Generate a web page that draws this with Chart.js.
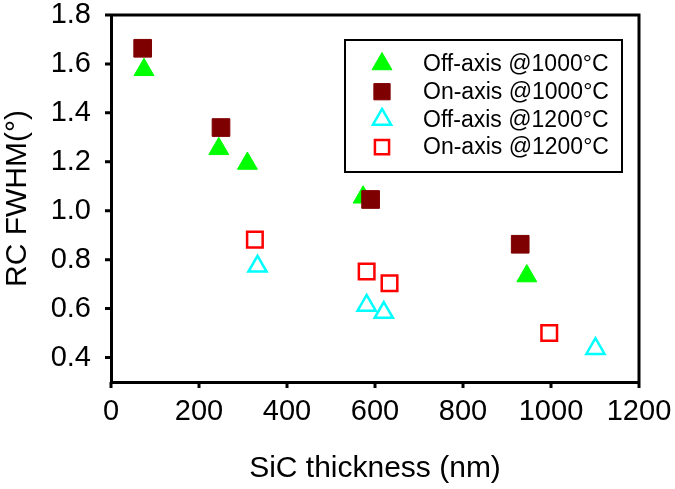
<!DOCTYPE html>
<html>
<head>
<meta charset="utf-8">
<script src="https://cdn.jsdelivr.net/npm/chart.js@4.4.0/dist/chart.umd.min.js"></script>
<style>
  html, body { margin: 0; padding: 0; background: #fff; }
</style>
</head>
<body>
<canvas id="chart" width="675" height="489"></canvas>
<script>
// values
const offAxis1000X = [75, 245, 310, 573, 945];
const offAxis1000Y = [1.576, 1.253, 1.193, 1.055, 0.733];
const onAxis1000X = [72, 250, 590, 930];
const onAxis1000Y = [1.664, 1.340, 1.046, 0.863];
const offAxis1200X = [333, 581, 620, 1101];
const offAxis1200Y = [0.773, 0.613, 0.584, 0.436];
const onAxis1200X = [327, 581, 633, 996];
const onAxis1200Y = [0.882, 0.752, 0.704, 0.500];

const xTicks = [0, 200, 400, 600, 800, 1000, 1200];
const yTicks = [0.4, 0.6, 0.8, 1.0, 1.2, 1.4, 1.6, 1.8];

const FONT = "'Liberation Sans', Arial, sans-serif";

function pts(xs, ys) {
  return xs.map((x, i) => ({ x: x, y: ys[i] }));
}

const datasets = [
  {
    label: "Off-axis @1000°C",
    data: pts(offAxis1000X, offAxis1000Y),
    pointStyle: "triangle",
    pointRadius: 11.5,
    backgroundColor: "#00ff00",
    borderColor: "#00ff00",
    borderWidth: 1,
    order: 2,
  },
  {
    label: "On-axis @1000°C",
    data: pts(onAxis1000X, onAxis1000Y),
    pointStyle: "rect",
    pointRadius: 12.5,
    backgroundColor: "#7f0000",
    borderColor: "#7f0000",
    borderWidth: 1,
    order: 1,
  },
  {
    label: "Off-axis @1200°C",
    data: pts(offAxis1200X, offAxis1200Y),
    pointStyle: "triangle",
    pointRadius: 10.5,
    backgroundColor: "rgba(255,255,255,0)",
    borderColor: "#00ffff",
    borderWidth: 2.5,
    order: 4,
  },
  {
    label: "On-axis @1200°C",
    data: pts(onAxis1200X, onAxis1200Y),
    pointStyle: "rect",
    pointRadius: 11,
    backgroundColor: "rgba(255,255,255,0)",
    borderColor: "#ff0000",
    borderWidth: 2.5,
    order: 3,
  },
];

// frame, outside tick marks and the boxed legend inside the plot
const boxPlugin = {
  id: "boxLegend",
  afterDraw(chart) {
    const ctx = chart.ctx;
    const a = chart.chartArea;
    const xs = chart.scales.x, ys = chart.scales.y;
    ctx.save();
    ctx.strokeStyle = "#000";
    ctx.lineWidth = 3;
    ctx.beginPath();
    ctx.moveTo(a.left, a.top);
    ctx.lineTo(a.right, a.top);
    ctx.lineTo(a.right, a.bottom);
    xTicks.forEach((v) => {
      const px = xs.getPixelForValue(v);
      ctx.moveTo(px, a.bottom);
      ctx.lineTo(px, a.bottom + 6);
    });
    yTicks.forEach((v) => {
      const py = ys.getPixelForValue(v);
      ctx.moveTo(a.left, py);
      ctx.lineTo(a.left - 6, py);
    });
    ctx.stroke();

    const bx = a.left + 234, by = a.top + 25, bw = 277, bh = 132;
    ctx.lineWidth = 2;
    ctx.fillStyle = "#fff";
    ctx.fillRect(bx, by, bw, bh);
    ctx.strokeRect(bx, by, bw, bh);

    ctx.font = "23px " + FONT;
    ctx.textBaseline = "middle";
    ctx.textAlign = "left";
    chart.data.datasets.forEach((ds, i) => {
      const y = by + 24 + i * 27.7;
      const mx = bx + 37;
      ctx.fillStyle = ds.backgroundColor;
      ctx.strokeStyle = ds.borderColor;
      ctx.lineWidth = ds.borderWidth;
      Chart.helpers.drawPoint(ctx, {
        pointStyle: ds.pointStyle,
        radius: ds.pointStyle === "rect" ? ds.pointRadius - 1 : ds.pointRadius,
        rotation: 0,
        borderWidth: ds.borderWidth,
      }, mx, y);
      ctx.fillStyle = "#000";
      ctx.fillText(ds.label, bx + 78, y + 1);
    });
    ctx.restore();
  },
};

new Chart(document.getElementById("chart"), {
  type: "scatter",
  data: { datasets: datasets },
  options: {
    responsive: false,
    devicePixelRatio: 1,
    animation: false,
    layout: { padding: { top: 15, right: 36, left: 0, bottom: 0 }, autoPadding: false },
    plugins: { legend: { display: false }, tooltip: { enabled: false } },
    scales: {
      x: {
        type: "linear",
        min: 0,
        max: 1200,
        afterFit: (s) => { s.height = 107; s.paddingLeft = 0; s.paddingRight = 0; },
        afterBuildTicks: (s) => { s.ticks = xTicks.map((v) => ({ value: v })); },
        ticks: {
          color: "#000",
          font: { family: FONT, size: 29 },
          padding: 13,
          maxRotation: 0,
          autoSkip: false,
          callback: (v) => String(v),
        },
        grid: { display: false, drawTicks: false },
        border: { display: true, color: "#000", width: 3 },
        title: {
          display: true,
          text: "SiC thickness (nm)",
          color: "#000",
          font: { family: FONT, size: 30 },
          padding: { top: 0, bottom: 2 },
        },
      },
      y: {
        type: "linear",
        min: 0.3,
        max: 1.8,
        afterFit: (s) => { s.width = 111; s.paddingTop = 0; s.paddingBottom = 0; },
        afterBuildTicks: (s) => { s.ticks = yTicks.map((v) => ({ value: v })); },
        ticks: {
          color: "#000",
          font: { family: FONT, size: 29 },
          padding: 20,
          autoSkip: false,
          callback: (v) => v.toFixed(1),
        },
        grid: { display: false, drawTicks: false },
        border: { display: true, color: "#000", width: 3 },
        title: {
          display: true,
          text: "RC FWHM(°)",
          color: "#000",
          font: { family: FONT, size: 30 },
          padding: { top: 0, bottom: 0 },
        },
      },
    },
  },
  plugins: [boxPlugin],
});
</script>
</body>
</html>
